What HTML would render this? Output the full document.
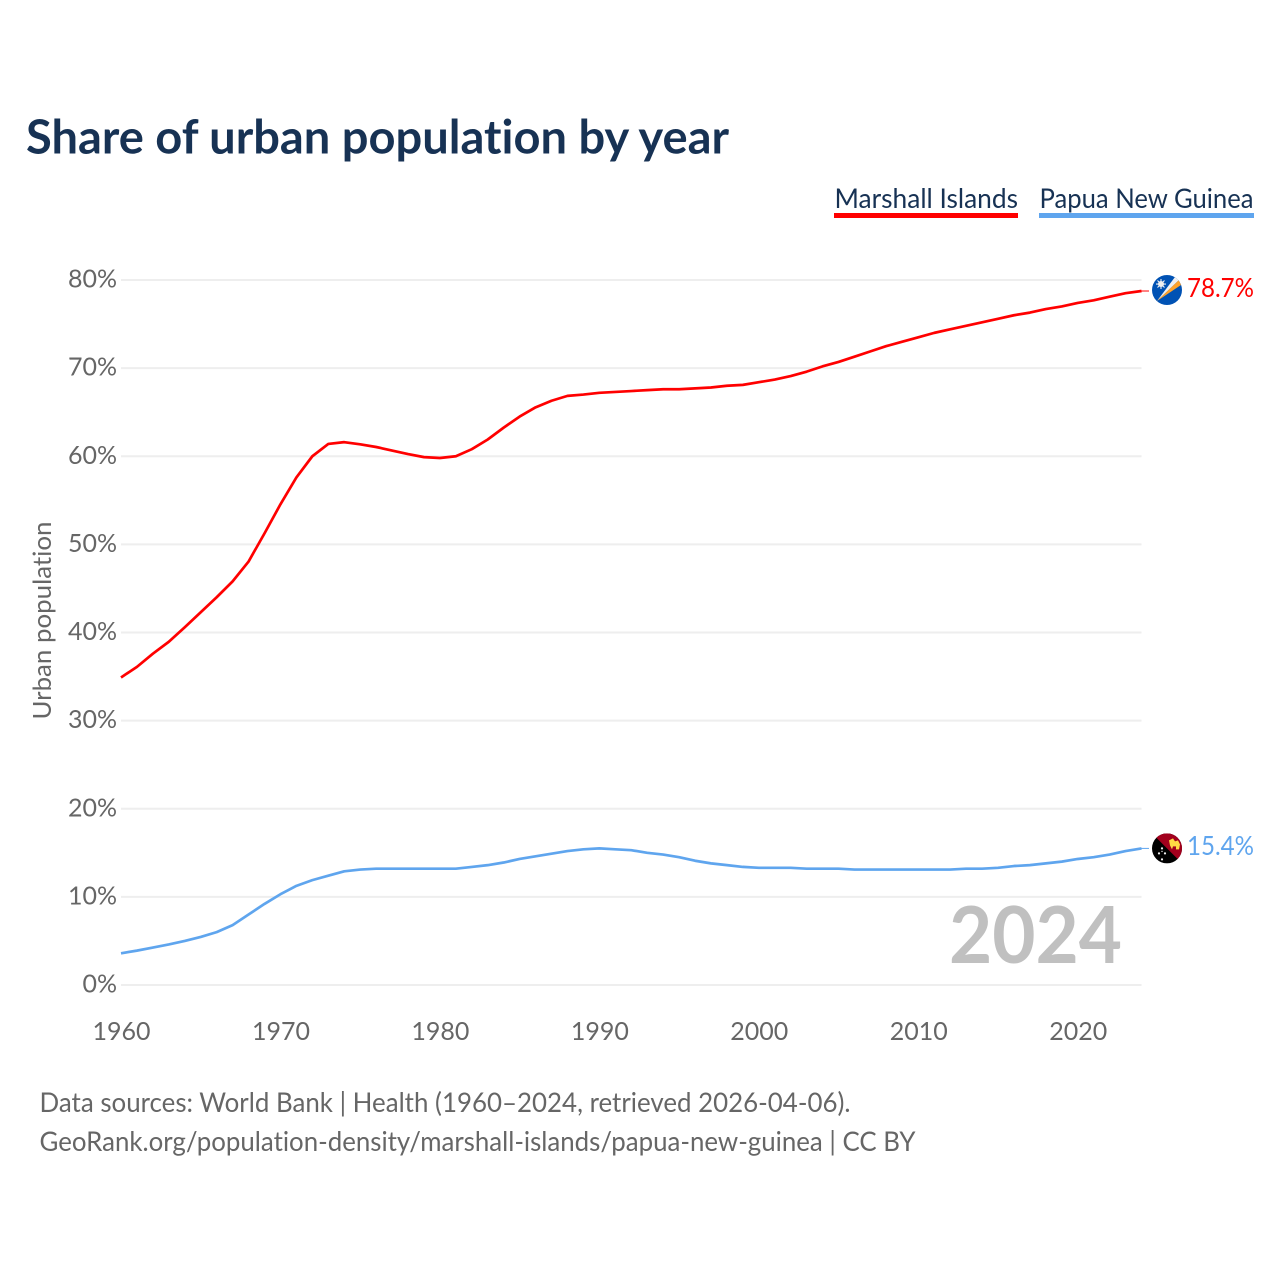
<!DOCTYPE html>
<html lang="en">
<head>
<meta charset="utf-8">
<title>Share of urban population by year</title>
<style>
html,body{margin:0;padding:0;background:#fff;width:1280px;height:1280px;overflow:hidden}
svg{display:block}
text{font-family:Lato,Carlito,"Liberation Sans",sans-serif;font-variant-ligatures:none}
</style>
</head>
<body>
<svg id="chart" xmlns="http://www.w3.org/2000/svg" width="1280" height="1280" viewBox="0 0 1280 1280">
  <rect width="1280" height="1280" fill="#fff"/>
  <text x="26" y="153.5" font-size="47" font-weight="700" fill="#173254" textLength="703" lengthAdjust="spacingAndGlyphs">Share of urban population by year</text>

  <text x="834.5" y="208" font-size="27.5" fill="#173254" textLength="183.5" lengthAdjust="spacingAndGlyphs">Marshall Islands</text>
  <rect x="834" y="213" width="184" height="5" fill="#ff0000"/>
  <text x="1039.5" y="208" font-size="27.5" fill="#173254" textLength="214" lengthAdjust="spacingAndGlyphs">Papua New Guinea</text>
  <rect x="1039" y="213" width="215" height="5" fill="#5fa5ee"/>

  <text transform="translate(51,719.5) rotate(-90)" font-size="25.5" fill="#666" textLength="198" lengthAdjust="spacingAndGlyphs">Urban population</text>

  <g id="grid"></g>
  <g id="yticks"></g>
  <g id="xticks"></g>

  <text id="year" x="949" y="963" font-size="79" font-weight="700" fill="#c0c0c0" textLength="173" lengthAdjust="spacingAndGlyphs">2024</text>

  <g id="series"></g>

  <g id="flag-mh">
    <clipPath id="clip-mh"><circle cx="0" cy="0" r="15"/></clipPath>
    <g clip-path="url(#clip-mh)">
      <rect x="-15" y="-15" width="30" height="30" fill="#0052b4"/>
      <polygon points="-10,11 8,-13 12,-10" fill="#f0f0f0"/>
      <polygon points="-10,11 12,-10 14,-5" fill="#ffa32b"/>
      <circle cx="-6" cy="-6" r="3" fill="#f0f0f0"/>
      <path d="M-6 -11 L-6 -1 M-11 -6 L-1 -6 M-9.5 -9.5 L-2.5 -2.5 M-9.5 -2.5 L-2.5 -9.5" stroke="#f0f0f0" stroke-width="1.1"/>
    </g>
  </g>
  <g id="flag-pg">
    <clipPath id="clip-pg"><circle cx="0" cy="0" r="15"/></clipPath>
    <g clip-path="url(#clip-pg)">
      <rect x="-15" y="-15" width="30" height="30" fill="#000"/>
      <polygon points="-15,-15 15,-15 15,15" fill="#a2001d"/>
      <path d="M2 -8 L6 -10 L8 -7 L11 -8 L13 -4 L12 1 L9 1 L9 -2 L6 -2 L5 1 L3 -3 Z" fill="#ffda44"/>
      <g fill="#f0f0f0">
        <circle cx="-5" cy="0" r="1.1"/><circle cx="-8" cy="5" r="1.1"/><circle cx="-2" cy="5" r="1.1"/><circle cx="-5" cy="3" r="0.7"/><circle cx="-5" cy="11" r="1.1"/>
      </g>
    </g>
  </g>

  <text id="label-mh" x="1187" y="297" font-size="26.5" fill="#ff0000" textLength="67" lengthAdjust="spacingAndGlyphs"></text>
  <text id="label-pg" x="1187" y="855" font-size="26.5" fill="#5fa5ee" textLength="67" lengthAdjust="spacingAndGlyphs"></text>

  <text x="39.5" y="1112" font-size="27" fill="#666" textLength="811" lengthAdjust="spacingAndGlyphs">Data sources: World Bank | Health (1960–2024, retrieved 2026-04-06).</text>
  <text x="39.5" y="1151" font-size="27" fill="#666" textLength="876" lengthAdjust="spacingAndGlyphs">GeoRank.org/population-density/marshall-islands/papua-new-guinea | CC BY</text>
</svg>
<script>
const startYear = 1960;
const marshallIslands = [34.9,36.1,37.6,38.95,40.6,42.3,44.0,45.8,48.05,51.25,54.55,57.6,60.0,61.4,61.6,61.35,61.05,60.65,60.25,59.9,59.8,60.0,60.8,61.9,63.25,64.5,65.55,66.3,66.85,67.0,67.2,67.3,67.4,67.5,67.6,67.6,67.7,67.8,68.0,68.1,68.4,68.7,69.1,69.6,70.2,70.7,71.3,71.9,72.5,73.0,73.5,74.0,74.4,74.8,75.2,75.6,76.0,76.3,76.7,77.0,77.4,77.7,78.1,78.5,78.75];
const papuaNewGuinea = [3.6,3.9,4.25,4.6,5.0,5.45,6.0,6.8,8.0,9.2,10.3,11.25,11.9,12.4,12.9,13.1,13.2,13.2,13.2,13.2,13.2,13.2,13.4,13.6,13.9,14.3,14.6,14.9,15.2,15.4,15.5,15.4,15.3,15.0,14.8,14.5,14.1,13.8,13.6,13.4,13.3,13.3,13.3,13.2,13.2,13.2,13.1,13.1,13.1,13.1,13.1,13.1,13.1,13.2,13.2,13.3,13.5,13.6,13.8,14.0,14.3,14.5,14.8,15.2,15.5];
const yTicks = [0,10,20,30,40,50,60,70,80];
const xTicks = [1960,1970,1980,1990,2000,2010,2020];
const endLabels = ["78.7%","15.4%"];

const NS = "http://www.w3.org/2000/svg";
function xScale(year){ return 121 + (year - 1960) * (1141.5 - 121) / 64; }
function yScale(v){ return 985 - v * (985 - 280) / 80; }
function make(tag, attrs){
  const el = document.createElementNS(NS, tag);
  for (const k in attrs) el.setAttribute(k, attrs[k]);
  return el;
}

const gridG = document.getElementById("grid");
const yG = document.getElementById("yticks");
yTicks.forEach(function(t){
  const line = make("line",{x1:121,x2:1141.5,y1:yScale(t),y2:yScale(t),stroke:"#eeeeee","stroke-width":2});
  
  
  gridG.appendChild(line);
  const label = make("text",{x:117,y:yScale(t)+7.5,"text-anchor":"end","font-size":25,fill:"#666"});
  
  
  label.textContent = t + "%";
  yG.appendChild(label);
});

const xG = document.getElementById("xticks");
xTicks.forEach(function(t){
  const label = make("text",{x:xScale(t)+0.5,y:1040,"text-anchor":"middle","font-size":25,fill:"#666"});
  
  
  label.textContent = t;
  xG.appendChild(label);
});

function pathFor(values){
  return values.map(function(v,i){
    return (i ? "L" : "M") + xScale(startYear + i).toFixed(2) + " " + yScale(v).toFixed(2);
  }).join(" ");
}
const seriesG = document.getElementById("series");

const lineMh = make("path",{d:pathFor(marshallIslands),fill:"none",stroke:"#ff0000","stroke-width":2.7,"stroke-linejoin":"round"});


seriesG.appendChild(lineMh);

const linePg = make("path",{d:pathFor(papuaNewGuinea),fill:"none",stroke:"#5fa5ee","stroke-width":2.7,"stroke-linejoin":"round"});


seriesG.appendChild(linePg);

const lastMh = yScale(marshallIslands[marshallIslands.length-1]);
const lastPg = yScale(papuaNewGuinea[papuaNewGuinea.length-1]);

const leadMh = make("line",{x1:1141,x2:1149,y1:lastMh,y2:lastMh,stroke:"#ff0000","stroke-width":1});


seriesG.appendChild(leadMh);

const leadPg = make("line",{x1:1141,x2:1149,y1:lastPg,y2:lastPg,stroke:"#5fa5ee","stroke-width":1});


seriesG.appendChild(leadPg);

document.getElementById("flag-mh").setAttribute("transform","translate(1167,"+(lastMh-1)+")");
document.getElementById("flag-pg").setAttribute("transform","translate(1167,"+lastPg+")");
const labMh = document.getElementById("label-mh");
labMh.textContent = endLabels[0];
labMh.setAttribute("y", lastMh + 6);
const labPg = document.getElementById("label-pg");
labPg.textContent = endLabels[1];
labPg.setAttribute("y", lastPg + 6.5);
</script>
</body>
</html>
